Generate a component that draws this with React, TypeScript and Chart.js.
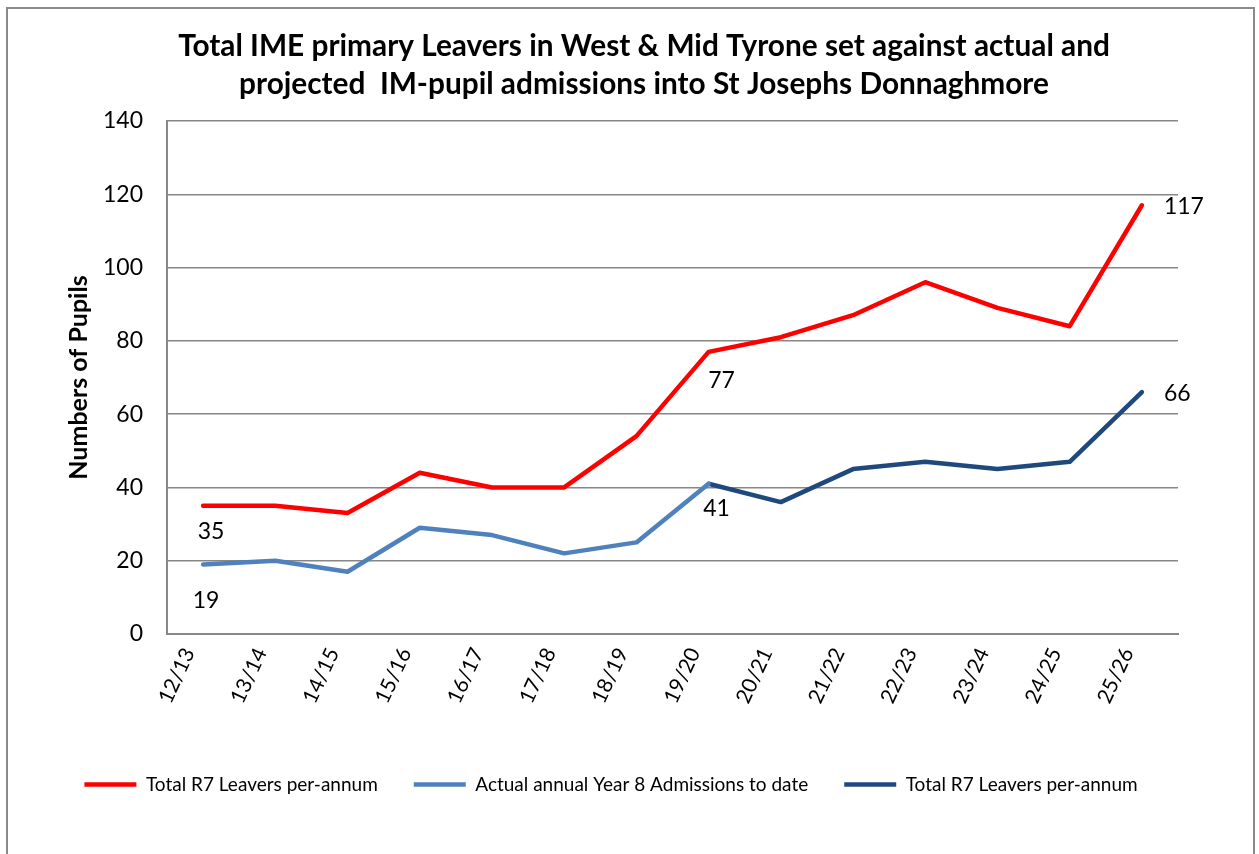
import React, { useEffect, useRef } from "react";
import { Chart, registerables } from "chart.js";

Chart.register(...registerables);

const categories = ["12/13", "13/14", "14/15", "15/16", "16/17", "17/18", "18/19", "19/20", "20/21", "21/22", "22/23", "23/24", "24/25", "25/26"];
const totalR7Leavers = [35, 35, 33, 44, 40, 40, 54, 77, 81, 87, 96, 89, 84, 117];
const actualAdmissions = [19, 20, 17, 29, 27, 22, 25, 41, null, null, null, null, null, null];
const projectedAdmissions = [null, null, null, null, null, null, null, 41, 36, 45, 47, 45, 47, 66];
const seriesNames = ["Total R7 Leavers per-annum", "Actual annual Year 8 Admissions to date", "Total R7 Leavers per-annum"];
const titleLines = ["Total IME primary Leavers in West & Mid Tyrone set against actual and", "projected  IM-pupil admissions into St Josephs Donnaghmore"];
const yAxisTitle = "Numbers of Pupils";
const yMin = 0;
const yMax = 140;
const yStep = 20;
// points that carry a value label: [datasetIndex, categoryIndex]
const labelledPoints: [number, number][] = [
  [0, 0], [0, 7], [0, 13],
  [1, 0], [1, 7],
  [2, 13],
];

const FONT = "Lato, 'Open Sans', sans-serif";
const GRID = "#878787";

// label placement offsets (style only), same order as labelledPoints
const labelPlacement = [
  { dx: 8, dy: 26, align: "center" },
  { dx: 13, dy: 29, align: "center" },
  { dx: 22, dy: 1, align: "left" },
  { dx: 3, dy: 36, align: "center" },
  { dx: 8, dy: 25, align: "center" },
  { dx: 22, dy: 1, align: "left" },
];

export default function App() {
  const ref = useRef<HTMLCanvasElement | null>(null);
  useEffect(() => {
    if (!ref.current) return;
    const framePlugin = {
      id: "frame",
      beforeDraw(chart: any) {
        const ctx = chart.ctx;
        ctx.save();
        ctx.fillStyle = "#ffffff";
        ctx.fillRect(0, 0, chart.width, chart.height);
        ctx.strokeStyle = "#8a8a8a";
        ctx.lineWidth = 2;
        ctx.beginPath();
        ctx.moveTo(7, 900);
        ctx.lineTo(7, 8);
        ctx.lineTo(1254, 8);
        ctx.lineTo(1254, 900);
        ctx.stroke();
        ctx.fillStyle = "#000000";
        ctx.font = `bold 29.8px ${FONT}`;
        ctx.textAlign = "center";
        ctx.textBaseline = "middle";
        ctx.fillText(titleLines[0], 644, 46);
        ctx.fillText(titleLines[1], 644, 84);
        ctx.restore();
      },
      afterDatasetsDraw(chart: any) {
        const ctx = chart.ctx;
        ctx.save();
        ctx.fillStyle = "#000000";
        ctx.font = `23px ${FONT}`;
        ctx.textBaseline = "middle";
        labelledPoints.forEach(([di, ci], k) => {
          const v = chart.data.datasets[di].data[ci];
          const x = chart.scales.x.getPixelForValue(ci);
          const y = chart.scales.y.getPixelForValue(v);
          const p = labelPlacement[k];
          ctx.textAlign = p.align;
          ctx.fillText(String(v), x + p.dx, y + p.dy);
        });
        ctx.restore();
      },
    };

    const common = {
      borderWidth: 4.5,
      pointRadius: 0,
      pointHoverRadius: 0,
      tension: 0,
      borderCapStyle: "round",
      borderJoinStyle: "round",
      fill: false,
      spanGaps: false,
    };

    const chart = new Chart(ref.current, {
      type: "line",
      data: {
        labels: categories,
        datasets: [
          { ...common, label: seriesNames[0], data: totalR7Leavers, borderColor: "#ff0000", backgroundColor: "#ff0000" },
          { ...common, label: seriesNames[1], data: actualAdmissions, borderColor: "#4f81bd", backgroundColor: "#4f81bd" },
          { ...common, label: seriesNames[2], data: projectedAdmissions, borderColor: "#1f497d", backgroundColor: "#1f497d" },
        ],
      } as any,
      options: {
        animation: false,
        responsive: false,
        maintainAspectRatio: false,
        layout: { padding: { left: 44, right: 81, top: 121, bottom: 50 } },
        plugins: {
          title: { display: false },
          tooltip: { enabled: false },
          legend: {
            position: "bottom",
            labels: {
              usePointStyle: true,
              pointStyle: "line",
              pointStyleWidth: 52,
              boxHeight: 4,
              padding: 36,
              color: "#000000",
              font: { family: FONT, size: 19 },
            },
          },
        },
        scales: {
          x: {
            offset: true,
            grid: { display: false, drawTicks: false },
            border: { display: true, color: GRID, width: 2 },
            ticks: {
              color: "#000000",
              font: { family: FONT, size: 21 },
              minRotation: 65,
              maxRotation: 65,
              padding: 10,
              labelOffset: -14,
              autoSkip: false,
            },
            afterFit(scale: any) { scale.height = 105; },
          },
          y: {
            min: yMin,
            max: yMax,
            grid: { color: GRID, lineWidth: 1.5, drawTicks: false },
            border: { display: true, color: GRID, width: 2 },
            ticks: {
              stepSize: yStep,
              color: "#000000",
              font: { family: FONT, size: 23 },
              padding: 24,
            },
            title: {
              display: true,
              text: yAxisTitle,
              color: "#000000",
              font: { family: FONT, size: 25, weight: "bold" },
              padding: { top: 20, bottom: 0 },
            },
            afterFit(scale: any) { scale.width = 123; },
          },
        },
      } as any,
      plugins: [framePlugin],
    });
    return () => chart.destroy();
  }, []);

  return (
    <div style={{ position: "fixed", left: 0, top: 0, width: 1259, height: 854, background: "#fff" }}>
      <canvas ref={ref} width={1259} height={854} style={{ width: 1259, height: 854, display: "block" }} />
    </div>
  );
}
